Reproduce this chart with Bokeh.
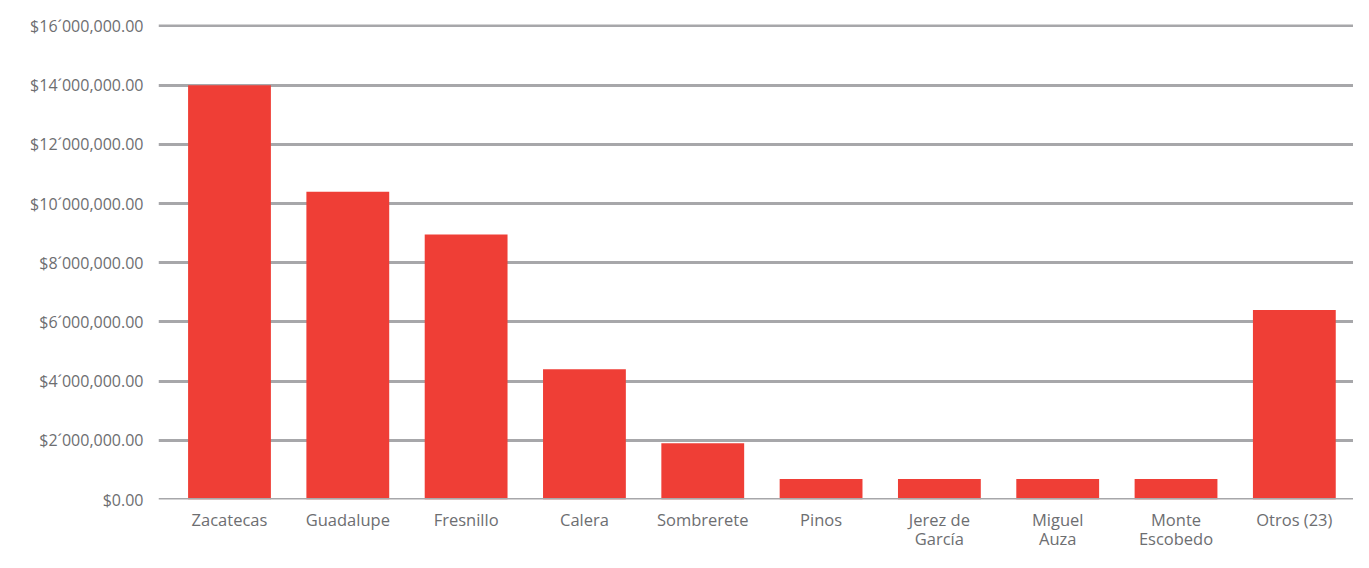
from bokeh.plotting import figure
from bokeh.models import FixedTicker, Range1d, ColumnDataSource, LinearAxis
from bokeh.embed import file_html
from bokeh.resources import INLINE

categories = ["Zacatecas", "Guadalupe", "Fresnillo", "Calera", "Sombrerete", "Pinos",
              "Jerez de\nGarcía", "Miguel\nAuza", "Monte\nEscobedo", "Otros (23)"]
values = [14000000, 10400000, 8950000, 4400000, 1900000, 690000, 690000, 690000, 690000, 6400000]
y_ticks = [0, 2000000, 4000000, 6000000, 8000000, 10000000, 12000000, 14000000, 16000000]
y_labels = ["$0.00", "$2\u00b4000,000.00", "$4\u00b4000,000.00", "$6\u00b4000,000.00",
            "$8\u00b4000,000.00", "$10\u00b4000,000.00", "$12\u00b4000,000.00",
            "$14\u00b4000,000.00", "$16\u00b4000,000.00"]

xs = list(range(len(categories)))
first_lines = [c.split("\n")[0] for c in categories]
second_lines = [c.split("\n")[1] if "\n" in c else "" for c in categories]
src = ColumnDataSource(dict(x=xs, top=values))

p = figure(width=1353, height=552, output_backend="svg", toolbar_location=None,
           x_range=Range1d(-0.6, 9.5), y_range=Range1d(0, 16050000),
           min_border_left=158, min_border_right=0, min_border_top=24, min_border_bottom=0)
p.outline_line_color = None
p.background_fill_color = "white"

p.vbar(x="x", top="top", width=0.70, source=src, fill_color="#EF3E36", line_color=None)

FONT = "Open Sans"
GRAY = "#6d6e71"

p.xgrid.grid_line_color = None
p.ygrid.grid_line_color = "#a7a7aa"
p.ygrid.grid_line_width = 3
p.ygrid.level = "underlay"

p.yaxis.ticker = FixedTicker(ticks=y_ticks)
p.yaxis.major_label_overrides = {t: l for t, l in zip(y_ticks, y_labels)}
p.yaxis.major_label_text_font_size = "16px"
p.yaxis.major_label_standoff = 15

p.xaxis.ticker = FixedTicker(ticks=xs)
p.xaxis.major_label_overrides = {x: c for x, c in zip(xs, first_lines)}
p.xaxis.major_label_standoff = 8

ax2 = LinearAxis(ticker=FixedTicker(ticks=xs),
                 major_label_overrides={x: c for x, c in zip(xs, second_lines)},
                 major_label_standoff=-7)
p.add_layout(ax2, "below")

for ax in (p.xaxis[0], ax2):
    ax.major_label_text_font_size = "16.5px"

for ax in (p.xaxis[0], ax2, p.yaxis[0]):
    ax.axis_line_color = None
    ax.major_tick_line_color = None
    ax.minor_tick_line_color = None
    ax.major_tick_out = 0
    ax.major_tick_in = 0
    ax.minor_tick_out = 0
    ax.minor_tick_in = 0
    ax.major_label_text_font = FONT
    ax.major_label_text_color = GRAY

# zero line drawn over bars bottom
p.hspan(y=[0], line_color="#a7a7aa", line_width=3)

open("out.html", "w").write(file_html(p, INLINE))
